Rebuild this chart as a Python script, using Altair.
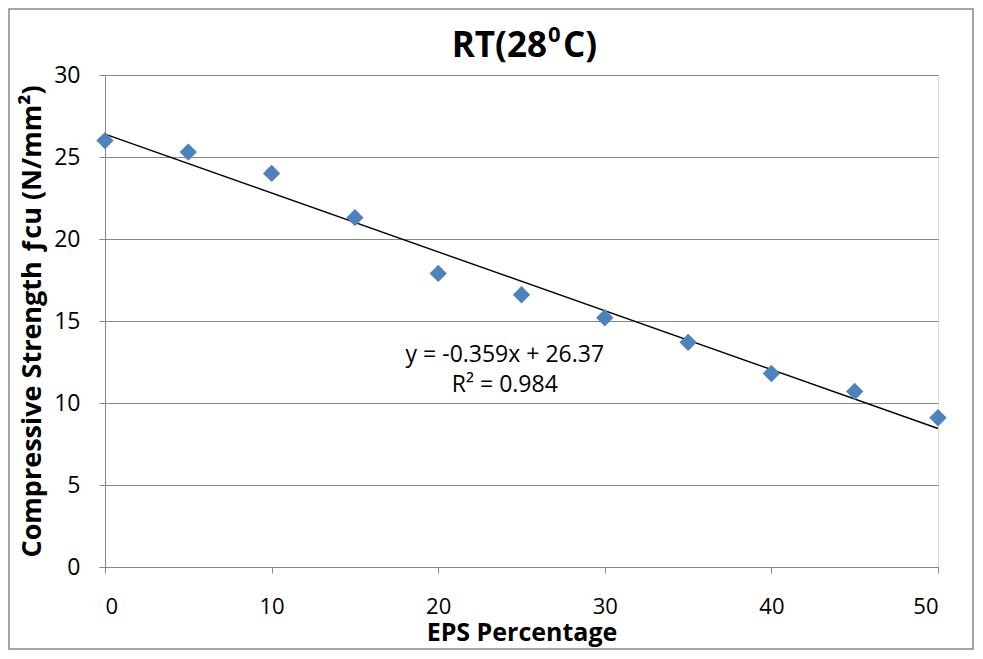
import altair as alt
import pandas as pd

eps = [0, 5, 10, 15, 20, 25, 30, 35, 40, 45, 50]
strength = [26.0, 25.3, 24.0, 21.3, 17.9, 16.6, 15.2, 13.7, 11.8, 10.7, 9.1]

eq_text = ["y = -0.359x + 26.37", "R² = 0.984"]
eq_x = [24.0, 24.0]
eq_y = [12.9, 11.1]

title_main = ["RT(28"]
title_sup = ["0"]
title_end = ["C)"]

df = pd.DataFrame({"eps": eps, "fcu": strength})
ann = pd.DataFrame({"label": eq_text, "x": eq_x, "y": eq_y})
t1 = pd.DataFrame({"t": title_main})
t2 = pd.DataFrame({"t": title_sup})
t3 = pd.DataFrame({"t": title_end})

FONT = "Open Sans"
GRID = "#868686"

xscale = alt.Scale(domain=[0, 50], nice=False)
yscale = alt.Scale(domain=[0, 30], nice=False)

base = alt.Chart(df)

points = base.mark_point(shape="diamond", filled=True, size=300, color="#4F81BD", opacity=1).encode(
    x=alt.X("eps:Q", scale=xscale,
            axis=alt.Axis(title="EPS Percentage", values=[0, 10, 20, 30, 40, 50],
                          grid=False, tickSize=6, tickColor=GRID, domainColor=GRID,
                          labelFont=FONT, labelFontSize=22, labelColor="black", labelPadding=23,
                          titleFont=FONT, titleFontSize=25, titleFontWeight="bold",
                          titleColor="black", titlePadding=3)),
    y=alt.Y("fcu:Q", scale=yscale,
            axis=alt.Axis(title="Compressive Strength ƒcu (N/mm²)", values=[0, 5, 10, 15, 20, 25, 30],
                          grid=True, gridColor=GRID, gridWidth=1, tickSize=6, tickColor=GRID,
                          domainColor=GRID, labelFont=FONT, labelFontSize=23, labelColor="black",
                          labelPadding=19, titleFont=FONT, titleFontSize=27, titleFontWeight="bold",
                          titleColor="black", titlePadding=7)),
)

trend = base.transform_regression("eps", "fcu", extent=[0, 50]).mark_line(color="black", strokeWidth=1.4).encode(
    x=alt.X("eps:Q", scale=xscale),
    y=alt.Y("fcu:Q", scale=yscale),
)

text = alt.Chart(ann).mark_text(font=FONT, fontSize=23, color="black", align="center").encode(
    x=alt.X("x:Q", scale=xscale),
    y=alt.Y("y:Q", scale=yscale),
    text="label:N",
)

tkw = dict(font=FONT, fontWeight="bold", color="black", baseline="alphabetic")
title1 = alt.Chart(t1).mark_text(fontSize=35, align="right", **tkw).encode(
    x=alt.value(442), y=alt.value(-18), text="t:N")
title2 = alt.Chart(t2).mark_text(fontSize=22, align="left", **tkw).encode(
    x=alt.value(443), y=alt.value(-33), text="t:N")
title3 = alt.Chart(t3).mark_text(fontSize=35, align="left", **tkw).encode(
    x=alt.value(458), y=alt.value(-18), text="t:N")

frame = alt.Chart(t1).mark_rect(fill=None, stroke="#888888", strokeWidth=1.5, clip=False).encode(
    x=alt.value(-96), x2=alt.value(868), y=alt.value(-66), y2=alt.value(574)
)

chart = alt.layer(frame, trend, points, text, title1, title2, title3).properties(
    width=833, height=492,
    autosize=alt.AutoSizeParams(type="none"),
    padding={"left": 97, "top": 67, "right": 37, "bottom": 84},
).configure_view(stroke=None).configure(background="white")

chart.save("out.html", embed_options={"renderer": "svg", "actions": False})
